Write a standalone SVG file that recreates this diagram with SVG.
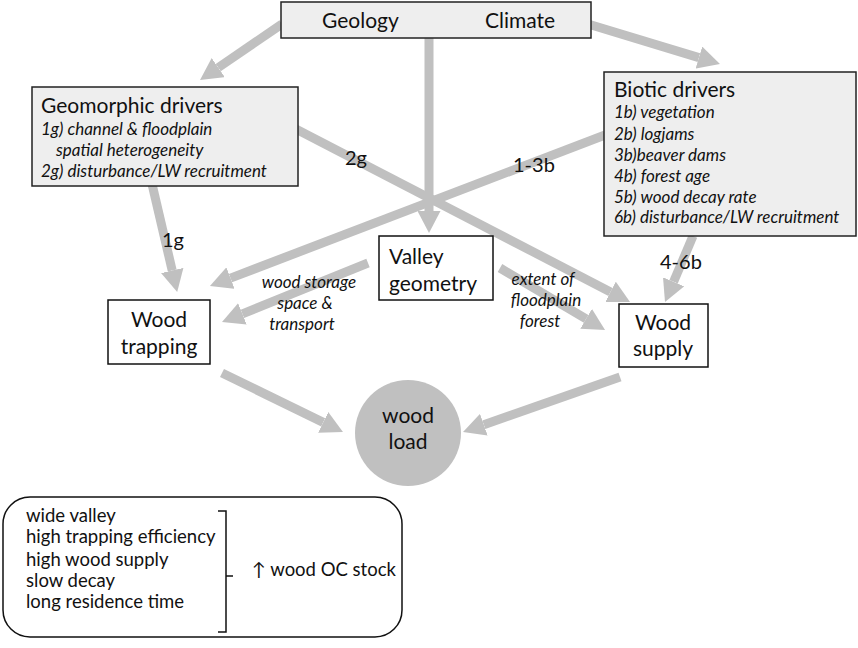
<svg xmlns="http://www.w3.org/2000/svg" width="858" height="648" viewBox="0 0 858 648">
<defs>
<style>
text{font-family:Lato,"Open Sans","DejaVu Sans",sans-serif;fill:#111}
.big{font-size:21px}
.it{font-size:17px;font-style:italic}
.lbl{font-size:20px}
.bot{font-size:18.5px}
.gbox{fill:#eeeeee;stroke:#222;stroke-width:1.5}
.wbox{fill:#ffffff;stroke:#111;stroke-width:1.5}
.arr{stroke:#c0c0c0;stroke-width:9;fill:none;marker-end:url(#ah)}
</style>
<marker id="ah" viewBox="0 0 22 23" refX="0" refY="11.5" markerUnits="userSpaceOnUse" markerWidth="22" markerHeight="23" orient="auto">
<path d="M0,0 L22,11.5 L0,23 z" fill="#c0c0c0"/>
</marker>
</defs>
<rect width="858" height="648" fill="#ffffff"/>
<g id="connectors">
<line class="arr" x1="282" y1="24" x2="218.2" y2="67.6"/>
<line class="arr" x1="588" y1="24" x2="698.9" y2="57.6"/>
<line class="arr" x1="429" y1="38" x2="429" y2="211"/>
<line class="arr" x1="292" y1="127" x2="610.5" y2="291.9"/>
<line class="arr" x1="605" y1="135" x2="230.5" y2="278.1"/>
<line class="arr" x1="152" y1="184" x2="172.2" y2="270.5"/>
<line class="arr" x1="368" y1="263" x2="242.4" y2="313.8"/>
<line class="arr" x1="500" y1="268" x2="586.1" y2="318.8"/>
<line class="arr" x1="693" y1="236" x2="673.6" y2="281.8"/>
<line class="arr" x1="222" y1="373" x2="323.2" y2="422.4"/>
<line class="arr" x1="620" y1="377" x2="483.8" y2="424.7"/>
<text class="lbl" x="345" y="165">2g</text>
<text class="lbl" x="513" y="172">1-3b</text>
<text class="lbl" x="162" y="247">1g</text>
<text class="lbl" x="660" y="269">4-6b</text>
<g class="it" text-anchor="middle">
<text x="309" y="288">wood storage</text>
<text x="305" y="309">space &amp;</text>
<text x="302" y="330">transport</text>
<text x="543" y="285">extent of</text>
<text x="546" y="306">floodplain</text>
<text x="540" y="327">forest</text>
</g>
</g>
<g id="top">
<rect class="gbox" x="281" y="2" width="310" height="36"/>
<text class="big" x="322" y="28">Geology</text>
<text class="big" x="485" y="28">Climate</text>
</g>
<g id="geomorphic">
<rect class="gbox" x="32" y="87" width="266" height="99"/>
<text class="big" x="41" y="113">Geomorphic drivers</text>
<text class="it" x="41" y="135">1g) channel &amp; floodplain</text>
<text class="it" x="56" y="156">spatial heterogeneity</text>
<text class="it" x="41" y="177">2g) disturbance/LW recruitment</text>
</g>
<g id="biotic">
<rect class="gbox" x="604" y="72" width="252" height="164"/>
<text class="big" x="614" y="97">Biotic drivers</text>
<text class="it" x="614" y="118">1b) vegetation</text>
<text class="it" x="614" y="140">2b) logjams</text>
<text class="it" x="614" y="161">3b)beaver dams</text>
<text class="it" x="614" y="182">4b) forest age</text>
<text class="it" x="614" y="203">5b) wood decay rate</text>
<text class="it" x="614" y="223">6b) disturbance/LW recruitment</text>
</g>
<g id="valley">
<rect class="wbox" x="379" y="236" width="114" height="64"/>
<text class="big" x="389" y="264">Valley</text>
<text class="big" x="389" y="291">geometry</text>
</g>
<g id="trapping">
<rect class="wbox" x="108" y="300" width="102" height="64"/>
<text class="big" x="159" y="327" text-anchor="middle">Wood</text>
<text class="big" x="159" y="354" text-anchor="middle">trapping</text>
</g>
<g id="supply">
<rect class="wbox" x="619" y="304" width="89" height="63"/>
<text class="big" x="663" y="330" text-anchor="middle">Wood</text>
<text class="big" x="663" y="356" text-anchor="middle">supply</text>
</g>
<g id="woodload">
<circle cx="408" cy="433" r="53" fill="#c0c0c0"/>
<text class="big" x="408" y="423" text-anchor="middle">wood</text>
<text class="big" x="408" y="449" text-anchor="middle">load</text>
</g>
<g id="summary">
<rect x="3" y="497" width="399" height="140" rx="27" ry="27" fill="#ffffff" stroke="#111" stroke-width="1.5"/>
<text class="bot" x="26" y="522">wide valley</text>
<text class="bot" x="26" y="543">high trapping efficiency</text>
<text class="bot" x="26" y="566">high wood supply</text>
<text class="bot" x="26" y="587">slow decay</text>
<text class="bot" x="26" y="608">long residence time</text>
<path d="M218,511 H226 V632 H218 M226,576 H233" fill="none" stroke="#111" stroke-width="1.5"/>
<text class="bot" x="252" y="576">↑ wood OC stock</text>
</g>
</svg>
